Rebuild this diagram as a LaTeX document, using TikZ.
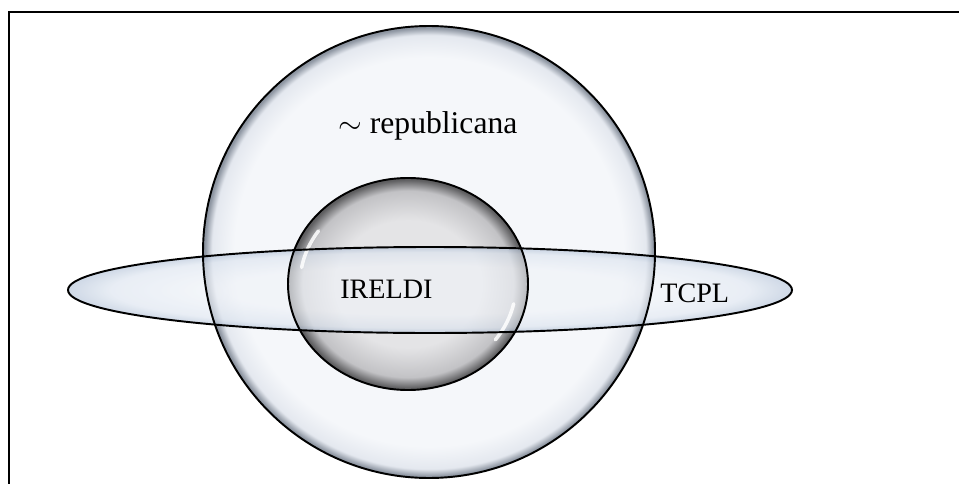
\documentclass[tikz,border=0pt]{standalone}
\usepackage{fontspec}
\setmainfont{Liberation Serif}
\usetikzlibrary{positioning}
\definecolor{glassA}{HTML}{F5F7FA}
\definecolor{glassB}{HTML}{E4E8EF}
\definecolor{glassC}{HTML}{8E96A2}
\definecolor{coreA}{HTML}{E4E4E6}
\definecolor{coreB}{HTML}{C2C2C5}
\definecolor{coreC}{HTML}{5E5E60}
\definecolor{bandA}{HTML}{F0F3F8}
\definecolor{bandB}{HTML}{DCE4EF}
\definecolor{bandC}{HTML}{B4C3D8}
\pgfdeclareradialshading{glassouter}{\pgfpoint{0bp}{0bp}}{color(0bp)=(glassA); color(21.5bp)=(glassA); color(24bp)=(glassB); color(24.8bp)=(glassC); color(25bp)=(glassC); color(50bp)=(glassC)}
\pgfdeclareradialshading{glasscore}{\pgfpoint{0bp}{0bp}}{color(0bp)=(coreA); color(15bp)=(coreA); color(22bp)=(coreB); color(24.6bp)=(coreC); color(25bp)=(coreC); color(50bp)=(coreC)}
\pgfdeclareradialshading{glassband}{\pgfpoint{0bp}{0bp}}{color(0bp)=(bandA); color(14bp)=(bandA); color(22bp)=(bandB); color(25bp)=(bandC); color(50bp)=(bandC)}
\tikzset{
  frame/.style ={draw=black,line width=1.2pt},
  rim/.style   ={draw=black,line width=1.1pt},
  outerset/.style={shading=glassouter},
  coreset/.style ={shading=glasscore},
  bandset/.style ={shading=glassband,fill opacity=0.65},
  glint/.style ={draw=white,line width=2pt,line cap=round,opacity=0.85},
  lbl/.style   ={font=\fontsize{16}{18}\selectfont,inner sep=0pt,anchor=base west},
}
\begin{document}
\begin{tikzpicture}[x=0.02cm,y=-0.02cm]
  \useasboundingbox (0,0) rectangle (959,483);
  \clip (0,0) rectangle (959,483);
  \draw[frame] (9,12) rectangle (990,520);
  % the three sets
  \shade[outerset] (429,252) circle [radius=226];
  \shade[coreset] (408,284) ellipse [x radius=120, y radius=106];
  \shade[bandset] (430,290) ellipse [x radius=362, y radius=43];
  \draw[glint] (408,284) ++(190:108 and 95) arc [start angle=190, end angle=214, x radius=108, y radius=95];
  \draw[glint] (408,284) ++(12:108 and 95) arc [start angle=12, end angle=36, x radius=108, y radius=95];
  \draw[rim] (429,252) circle [radius=226];
  \draw[rim] (408,284) ellipse [x radius=120, y radius=106];
  \draw[rim] (430,290) ellipse [x radius=362, y radius=43];
  % labels
  \node[lbl,font=\fontsize{18}{20}\selectfont] (repub) at (338,133) {$\sim$ republicana};
  \node[lbl] (ireldi) at (340,298) {IRELDI};
  \node[lbl] (tcpl) at (660,302) {TCPL};
\end{tikzpicture}
\end{document}
